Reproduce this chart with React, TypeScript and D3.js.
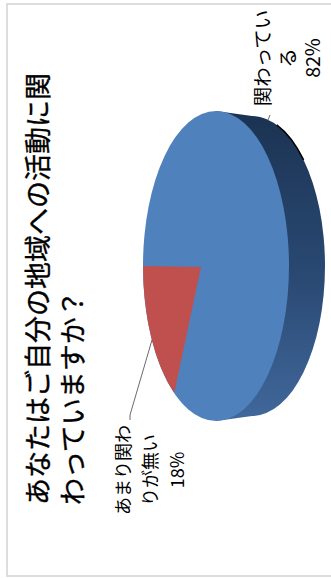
import * as d3 from 'd3'

const WIDTH = 331
const HEIGHT = 578

// Values
const categories = ['関わっている', 'あまり関わりが無い']
const values = [82, 18]
const titleLines = ['あなたはご自分の地域への活動に関', 'わっていますか？']
const labelLines = [
  ['関わってい', 'る', '82%'],
  ['あまり関わ', 'りが無い', '18%'],
]

const COLORS = ['#4f81bd', '#c0504d']
const FONT = '"Noto Sans CJK JP", "Noto Sans", sans-serif'

// The whole chart is turned a quarter turn, so everything below is in chart space
const pieCenter = { x: 312, y: 216 }
const apex = { x: 311, y: 201 }
const radius = { x: 155, y: 73 }
const wall = { dy: 36, rx: 150 }
const perspective = 0.85

const slices = d3.pie<number>().sort(null)(values)

function topPoint(angle: number) {
  // angles near the top of the ellipse are squeezed by the 3D view
  const t = 2 * Math.PI - (2 * Math.PI - angle) * perspective
  return {
    x: pieCenter.x + radius.x * Math.sin(t),
    y: pieCenter.y - radius.y * Math.cos(t),
  }
}

function redSlicePath() {
  const start = topPoint(slices[1].startAngle)
  const end = topPoint(slices[1].endAngle)
  return `M${apex.x},${apex.y}L${start.x},${start.y}A${radius.x},${radius.y} 0 0 1 ${end.x},${end.y}Z`
}

function wallPath() {
  const cy = pieCenter.y + wall.dy
  return `M${pieCenter.x + radius.x},${pieCenter.y}`
    + `L${pieCenter.x + wall.rx},${cy}`
    + `A${wall.rx},${radius.y} 0 0 1 ${pieCenter.x - wall.rx},${cy}`
    + `L${pieCenter.x - radius.x},${pieCenter.y}Z`
}

function wallEdgePath() {
  const cy = pieCenter.y + wall.dy
  const a = d3.scaleLinear().domain([0, 1]).range([Math.PI * 0.11, Math.PI * 0.25])
  const pt = (k: number) => [
    pieCenter.x + wall.rx * Math.cos(a(k)),
    cy + radius.y * Math.sin(a(k)),
  ]
  const [x0, y0] = pt(1)
  const [x1, y1] = pt(0)
  return `M${x1},${y1}A${wall.rx},${radius.y} 0 0 1 ${x0},${y0}`
}

export default function App() {
  return (
    <svg
      width={WIDTH}
      height={HEIGHT}
      style={{ position: 'absolute', left: 0, top: 0, background: '#fff' }}
      fontFamily={FONT}
      aria-label={categories.join(' / ')}
    >
      <defs>
        <linearGradient id="wallFill" x1="1" y1="0" x2="0" y2="0">
          <stop offset="0" stopColor="#1b3352" />
          <stop offset="0.55" stopColor="#2a4a74" />
          <stop offset="1" stopColor="#41689c" />
        </linearGradient>
      </defs>

      <g transform={`translate(0,${HEIGHT}) rotate(-90)`}>
        {/* chart frame, open on the right of the photo */}
        <path d="M2,340V7H574V340" fill="none" stroke="#d2d2d2" strokeWidth={1.5} />

        {/* title */}
        {titleLines.map((line, i) => (
          <text key={i} x={73} y={48 + i * 35} fontSize={27} fill="#000" stroke="#000" strokeWidth={0.35}>
            {line}
          </text>
        ))}

        {/* pie */}
        <path d={wallPath()} fill="url(#wallFill)" />
        <path d={wallEdgePath()} fill="none" stroke="#000" strokeWidth={1.5} />
        <ellipse cx={pieCenter.x} cy={pieCenter.y} rx={radius.x} ry={radius.y} fill={COLORS[0]} />
        <path d={redSlicePath()} fill={COLORS[1]} />

        {/* leader lines */}
        <path d="M238,152L163,130H158" fill="none" stroke="#444" strokeWidth={0.8} />
        <path d="M458,268L463,270" fill="none" stroke="#444" strokeWidth={0.8} />

        {/* data labels */}
        {labelLines.map((lines, i) =>
          lines.map((line, j) => (
            <text
              key={`${i}-${j}`}
              x={i === 0 ? 520 : 108}
              y={(i === 0 ? 269.5 : 130) + j * (i === 0 ? 25 : 27)}
              fontSize={i === 0 ? 19.5 : 18}
              textAnchor="middle"
              fill="#000"
            >
              {line}
            </text>
          )),
        )}
      </g>
    </svg>
  )
}
